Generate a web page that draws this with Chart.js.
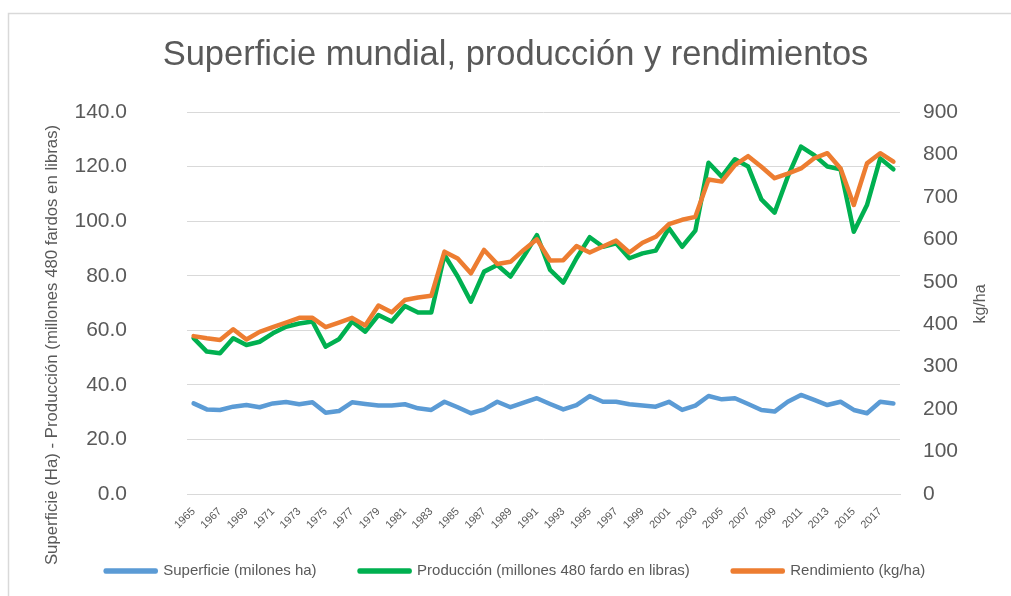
<!DOCTYPE html>
<html>
<head>
<meta charset="utf-8">
<script src="https://cdn.jsdelivr.net/npm/chart.js@4.4.1/dist/chart.umd.min.js"></script>
<style>
    body { margin: 0; background: #ffffff; }
    #wrap { width: 1011px; height: 596px; }
</style>
</head>
<body>
<div id="wrap"><canvas id="cottonChart" width="1011" height="596"></canvas></div>
<script>
// years 1965 - 2018
const years = [
    '1965','1966','1967','1968','1969','1970','1971','1972','1973','1974',
    '1975','1976','1977','1978','1979','1980','1981','1982','1983','1984',
    '1985','1986','1987','1988','1989','1990','1991','1992','1993','1994',
    '1995','1996','1997','1998','1999','2000','2001','2002','2003','2004',
    '2005','2006','2007','2008','2009','2010','2011','2012','2013','2014',
    '2015','2016','2017','2018'
];

const superficie = [
    33.2, 31.0, 30.8, 32.0, 32.6, 31.8, 33.2, 33.7, 32.9, 33.6,
    29.8, 30.4, 33.6, 33.0, 32.4, 32.4, 32.9, 31.4, 30.8, 33.8,
    31.8, 29.6, 31.0, 33.8, 31.8, 33.5, 35.1, 33.0, 31.0, 32.6,
    35.9, 33.8, 33.8, 32.9, 32.4, 32.0, 33.8, 30.8, 32.4, 35.9,
    34.7, 35.1, 33.0, 30.8, 30.2, 33.8, 36.3, 34.5, 32.6, 33.8,
    30.8, 29.6, 33.8, 33.2
];

const produccion = [
    57.1, 52.2, 51.6, 57.1, 54.6, 55.8, 58.9, 61.3, 62.5, 63.2,
    54.0, 56.7, 63.2, 59.5, 65.6, 63.2, 68.9, 66.5, 66.5, 87.6,
    79.7, 70.5, 81.5, 83.9, 79.7, 87.0, 94.9, 82.1, 77.5, 86.4,
    94.1, 90.6, 91.9, 86.4, 88.2, 89.2, 97.4, 90.6, 96.5, 121.4,
    116.3, 122.7, 120.0, 108.0, 103.1, 116.3, 127.3, 124.2, 120.0, 119.0,
    96.1, 105.9, 123.0, 119.0
];

const rendimiento = [
    372, 367, 363, 388, 364, 382, 393, 404, 415, 415,
    393, 404, 415, 397, 444, 428, 457, 463, 467, 571,
    555, 520, 575, 542, 547, 575, 600, 550, 551, 584,
    569, 583, 597, 569, 592, 606, 636, 646, 653, 741,
    736, 775, 796, 771, 744, 755, 767, 791, 803, 767,
    681, 779, 803, 783
];

const chartTitle = 'Superficie mundial, producción y rendimientos';
const leftTitle = 'Superficie (Ha) - Producción (millones 480 fardos en libras)';
const rightTitle = 'kg/ha';

const FONT = '"Liberation Sans", Arial, sans-serif';
const GREY_TEXT = '#595959';
const GRID = '#D9D9D9';

// axis titles + outer frame, placed like the excel original
const extras = {
    id: 'extras',
    afterDraw(chart) {
        const ctx = chart.ctx;
        ctx.save();
        ctx.strokeStyle = GRID;
        ctx.lineWidth = 1.5;
        ctx.strokeRect(8.5, 13.5, 1100, 700);

        ctx.fillStyle = GREY_TEXT;
        ctx.textAlign = 'center';
        ctx.textBaseline = 'middle';

        ctx.save();
        ctx.font = '16.8px ' + FONT;
        ctx.translate(52, 345);
        ctx.rotate(-Math.PI / 2);
        ctx.fillText(leftTitle, 0, 0);
        ctx.restore();

        ctx.save();
        ctx.font = '16px ' + FONT;
        ctx.translate(981, 304);
        ctx.rotate(-Math.PI / 2);
        ctx.fillText(rightTitle, 0, 0);
        ctx.restore();

        ctx.restore();
    }
};

function makeLine(label, data, color, axis, order) {
    return {
        label: label,
        data: data,
        yAxisID: axis,
        order: order,
        borderColor: color,
        backgroundColor: color,
        borderWidth: 4.5,
        borderCapStyle: 'round',
        borderJoinStyle: 'round',
        pointRadius: 0,
        tension: 0
    };
}

const ctx = document.getElementById('cottonChart').getContext('2d');
new Chart(ctx, {
    type: 'line',
    data: {
        labels: years,
        datasets: [
            makeLine('Superficie (milones ha)', superficie, '#5B9BD5', 'y', 2),
            makeLine('Producción (millones 480 fardo en libras)', produccion, '#00B050', 'y', 1),
            makeLine('Rendimiento (kg/ha)', rendimiento, '#ED7D31', 'y1', 0)
        ]
    },
    options: {
        responsive: false,
        animation: false,
        // left padding shifts title/legend centre like the original
        layout: { padding: { left: 20, right: 0, top: 0, bottom: 7.5 } },
        plugins: {
            title: {
                display: true,
                text: chartTitle,
                color: GREY_TEXT,
                font: { family: FONT, size: 34.5, weight: 'normal', lineHeight: 1.2 },
                padding: { top: 34.3, bottom: 36.3 }
            },
            legend: {
                position: 'bottom',
                labels: {
                    color: GREY_TEXT,
                    font: { family: FONT, size: 15 },
                    boxWidth: 50,
                    boxHeight: 1,
                    padding: 43,
                    sort: (a, b) => a.datasetIndex - b.datasetIndex
                }
            },
            tooltip: { enabled: false }
        },
        scales: {
            x: {
                offset: true,
                grid: { display: false },
                border: { display: true, color: GRID, width: 1 },
                afterFit: (scale) => {
                    scale.height = 26.5;
                    // rotated year labels run into the legend band, don't clip them
                    scale._computeLabelArea = () => undefined;
                },
                ticks: {
                    autoSkip: false,
                    maxRotation: 45,
                    minRotation: 45,
                    padding: 3,
                    color: GREY_TEXT,
                    font: { family: FONT, size: 11 },
                    callback: function(value, index) {
                        return index % 2 === 0 ? years[index] : '';
                    }
                }
            },
            y: {
                position: 'left',
                min: 0,
                max: 140,
                afterFit: (scale) => { scale.width = 167; },
                grid: { color: GRID, lineWidth: 1, drawTicks: false },
                border: { display: false },
                ticks: {
                    stepSize: 20,
                    padding: 60,
                    color: GREY_TEXT,
                    font: { family: FONT, size: 21 },
                    callback: (v) => v.toFixed(1)
                }
            },
            y1: {
                position: 'right',
                min: 0,
                max: 900,
                afterFit: (scale) => { scale.width = 111; },
                grid: { display: false, drawTicks: false },
                border: { display: false },
                ticks: {
                    stepSize: 100,
                    padding: 23,
                    color: GREY_TEXT,
                    font: { family: FONT, size: 21 }
                }
            }
        }
    },
    plugins: [extras]
});
</script>
</body>
</html>
